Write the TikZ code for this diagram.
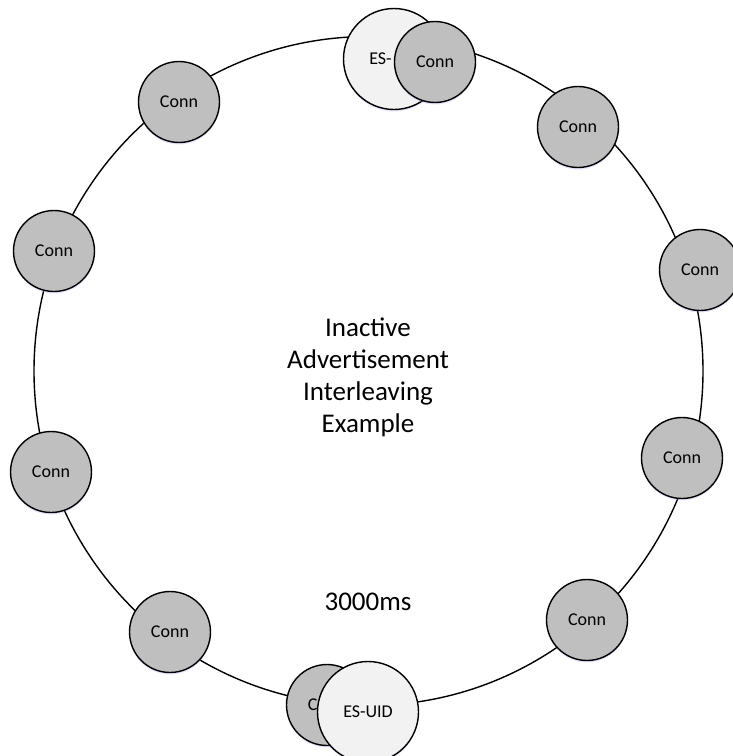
\documentclass[tikz,border=0pt]{standalone}
\usepackage{fontspec}
\setmainfont{Carlito}
\usepackage{tikz}
\usepackage{xcolor}
\usetikzlibrary{shadows}

\definecolor{conngray}{RGB}{191,191,191}
\definecolor{eslight}{RGB}{242,242,242}
\tikzset{
  halo/.style={drop shadow={shadow xshift=0pt, shadow yshift=-2pt, fill=blue!40!white, opacity=0.25}},
  conn/.style={draw, circle, line width=1.4pt, fill=conngray, minimum size=81pt, inner sep=0pt, halo, font=\fontsize{18}{21}\selectfont},
  esuid/.style={draw, circle, line width=1.4pt, fill=eslight, minimum size=101pt, inner sep=0pt, halo, font=\fontsize{18}{21}\selectfont}
}

\begin{document}
\begin{tikzpicture}[x=1pt, y=-1pt]
  \useasboundingbox (0,0) rectangle (732,756);

  % Ring
  \draw[line width=1.4pt] (368.5,371) circle (334.5pt);

  % Nodes
  \node[esuid] (esTop) at (394,59) {ES-\phantom{UID}};
  \node[conn] (connTop) at (435,62) {Conn};
  \node[conn] (connTR) at (578,127) {Conn};
  \node[conn] (connR) at (700,270) {Conn};
  \node[conn] (connRL) at (682,458) {Conn};
  \node[conn] (connBR) at (587,620) {Conn};
  \node[conn] (connBot) at (327,705) {C\phantom{onn}};
  \node[esuid] (esBot) at (368,712) {ES-UID};
  \node[conn] (connBL) at (170,632) {Conn};
  \node[conn] (connLL) at (51,472) {Conn};
  \node[conn] (connL) at (54,251) {Conn};
  \node[conn] (connTL) at (179,102) {Conn};

  % Labels
  \node[align=center, font=\fontsize{27}{32}\selectfont] (title) at (368,377) {Inactive\\Advertisement\\Interleaving\\Example};
  \node[font=\fontsize{27}{32}\selectfont] (period) at (368,602) {3000ms};
\end{tikzpicture}
\end{document}
